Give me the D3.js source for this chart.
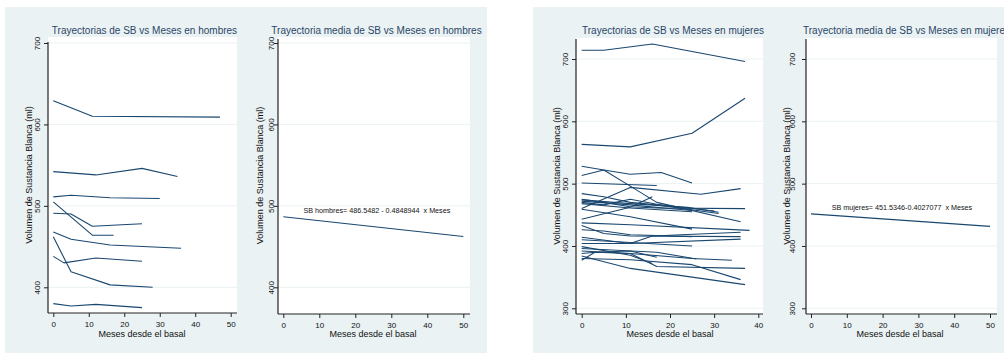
<!DOCTYPE html>
<html>
<head>
<meta charset="utf-8">
<script src="https://cdn.jsdelivr.net/npm/d3@7"></script>
<style>
  body { margin: 0; background: #fff; }
  svg { display: block; font-family: "Liberation Sans", Arial, sans-serif; }
</style>
</head>
<body>
<div id="chart"></div>
<script>
// Trayectorias individuales de SB (ml) frente a meses desde el basal
// cada sujeto: lista de [meses, SB]
const hombres = [
  [[0, 629], [11, 610], [47, 609]],
  [[0, 542], [12, 538], [25, 546], [35, 536]],
  [[0, 511], [5, 513], [16, 510], [30, 509]],
  [[0, 505], [11, 464], [17, 464]],
  [[0, 491], [5, 490], [11, 475], [25, 478]],
  [[0, 468], [5, 459], [16, 452], [36, 448]],
  [[0, 462], [5, 419], [16, 403], [28, 400]],
  [[0, 438], [3, 430], [12, 436], [25, 432]],
  [[0, 380], [5, 377], [12, 379], [25, 375]]
];

const mujeres = [
  [[0, 714], [5, 714], [16, 724], [25, 712], [37, 696]],
  [[0, 563], [11, 559], [25, 581], [37, 637]],
  [[0, 513], [5, 522], [11, 515], [18, 518], [25, 501]],
  [[0, 528], [5, 522], [11, 496], [17, 470], [36, 439]],
  [[0, 501], [17, 497]],
  [[0, 460], [11, 494], [27, 483], [36, 492]],
  [[0, 484], [5, 479], [11, 470], [17, 466], [31, 452]],
  [[0, 475], [5, 470], [11, 463], [17, 461], [37, 460]],
  [[0, 472], [11, 466], [17, 462], [25, 457]],
  [[0, 470], [5, 466], [11, 475], [17, 467], [30, 456]],
  [[0, 468], [11, 461], [25, 455]],
  [[0, 474], [11, 468], [24, 462], [31, 454]],
  [[0, 443], [11, 462], [16, 479]],
  [[0, 459], [11, 447], [25, 427]],
  [[0, 437], [11, 434], [38, 425]],
  [[0, 433], [5, 420], [11, 416], [36, 415]],
  [[0, 426], [5, 424], [11, 418], [25, 415]],
  [[0, 414], [11, 404], [16, 416], [36, 422]],
  [[0, 404], [11, 404], [36, 411]],
  [[0, 410], [25, 400]],
  [[0, 399], [11, 385], [16, 372]],
  [[0, 396], [17, 390], [26, 379]],
  [[0, 392], [11, 388], [25, 380], [34, 377]],
  [[0, 388], [3, 390], [11, 388], [17, 367], [37, 364]],
  [[0, 380], [11, 378], [25, 370], [36, 346]],
  [[0, 384], [11, 364], [37, 338]],
  [[0, 377], [3, 390], [11, 392], [17, 382]]
];

// trayectorias medias (recta de regresion), extremos
const mediaHombres = [[0, 486.55], [50, 462.30]];
const mediaMujeres = [[0, 451.53], [50, 431.40]];

const ticksMeses50 = [0, 10, 20, 30, 40, 50];
const ticksMeses40 = [0, 10, 20, 30, 40];
const ticksSBHombres = [400, 500, 600, 700];
const ticksSBMujeres = [300, 400, 500, 600, 700];

const etiquetaHombres = "SB hombres= 486.5482 - 0.4848944  x Meses";
const etiquetaMujeres = "SB mujeres= 451.5346-0.4027077  x Meses";

const tituloY = "Volumen de Sustancia Blanca (ml)";
const tituloX = "Meses desde el basal";

const W = 1004, H = 353;
const bg = "#eaf2f3";
const navy = "#1a476f";

const svg = d3.select("#chart").append("svg")
  .attr("width", W).attr("height", H);

svg.append("rect").attr("width", W).attr("height", H).attr("fill", "#fff");

// fondos de los dos graficos combinados
svg.append("rect").attr("x", 5).attr("y", 7).attr("width", 482).attr("height", 346).attr("fill", bg);
svg.append("rect").attr("x", 533).attr("y", 7).attr("width", 471).attr("height", 346).attr("fill", bg);

const panels = [
  { title: "Trayectorias de SB vs Meses en hombres", titleX: 144.5,
    box: [48, 37, 237, 313], axisTop: 42,
    xDom: [0, 50], xRange: [53.3, 230.7], xTicks: ticksMeses50,
    yDom: [400, 700], yRange: [287.3, 43], yTicks: ticksSBHombres,
    tickLabelX: 37, yTitleX: 28.5, xTitleX: 142,
    series: hombres },
  { title: "Trayectoria media de SB vs Meses en hombres", titleX: 376.5,
    box: [278, 37, 470, 314], axisTop: 39,
    xDom: [0, 50], xRange: [283.3, 463.3], xTicks: ticksMeses50,
    yDom: [400, 700], yRange: [287.3, 43], yTicks: ticksSBHombres,
    tickLabelX: 271.5, yTitleX: 260, xTitleX: 373,
    series: [mediaHombres], label: etiquetaHombres, labelAt: [26, 494] },
  { title: "Trayectorias de SB vs Meses en mujeres", titleX: 673,
    box: [576, 38, 763, 314], axisTop: 39,
    xDom: [0, 40], xRange: [581.7, 758.3], xTicks: ticksMeses40,
    yDom: [300, 700], yRange: [308.3, 59], yTicks: ticksSBMujeres,
    tickLabelX: 565, yTitleX: 556.5, xTitleX: 670,
    series: mujeres },
  { title: "Trayectoria media de SB vs Meses en mujeres", titleX: 906.5,
    box: [806, 38, 997, 314], axisTop: 39,
    xDom: [0, 50], xRange: [811, 990], xTicks: ticksMeses50,
    yDom: [300, 700], yRange: [308.3, 59], yTicks: ticksSBMujeres,
    tickLabelX: 792, yTitleX: 787, xTitleX: 900,
    series: [mediaMujeres], label: etiquetaMujeres, labelAt: [25.4, 461.5] }
];

panels.forEach(drawPanel);

function drawPanel(p) {
  const [x0, y0, x1, y1] = p.box;
  const x = d3.scaleLinear().domain(p.xDom).range(p.xRange);
  const y = d3.scaleLinear().domain(p.yDom).range(p.yRange);
  const g = svg.append("g");

  // region del grafico
  g.append("rect")
    .attr("x", x0).attr("y", y0)
    .attr("width", x1 - x0).attr("height", y1 - y0)
    .attr("fill", "#fff");

  // rejilla
  g.selectAll("line.grid")
    .data(p.yTicks)
    .join("line")
    .attr("class", "grid")
    .attr("x1", x0).attr("x2", x1)
    .attr("y1", d => y(d)).attr("y2", d => y(d))
    .attr("stroke", bg).attr("stroke-width", 1);

  // lineas
  const line = d3.line().x(d => x(d[0])).y(d => y(d[1]));
  g.selectAll("path.tray")
    .data(p.series)
    .join("path")
    .attr("class", "tray")
    .attr("d", line)
    .attr("fill", "none")
    .attr("stroke", navy)
    .attr("stroke-width", 1.1)
    .attr("stroke-linejoin", "round");

  if (p.label) {
    g.append("text")
      .attr("x", x(p.labelAt[0]))
      .attr("y", y(p.labelAt[1]))
      .attr("dy", "0.35em")
      .attr("text-anchor", "middle")
      .attr("font-size", "7.2px")
      .attr("fill", "#111")
      .style("white-space", "pre")
      .text(p.label);
  }

  // eje x
  const xAxis = g.append("g")
    .attr("transform", "translate(0," + y1 + ")")
    .call(d3.axisBottom(x).tickValues(p.xTicks).tickSize(4).tickPadding(4.5).tickSizeOuter(0));
  xAxis.select(".domain").remove();
  xAxis.selectAll("line").attr("stroke", "#222");
  xAxis.selectAll("text")
    .attr("font-size", "8px")
    .attr("font-family", "Liberation Sans, Arial, sans-serif")
    .attr("fill", "#111");
  g.append("line")
    .attr("x1", x0).attr("x2", x1)
    .attr("y1", y1).attr("y2", y1)
    .attr("stroke", "#222").attr("stroke-width", 1.2);

  // eje y
  const yAxis = g.append("g")
    .attr("transform", "translate(" + x0 + ",0)")
    .call(d3.axisLeft(y).tickValues(p.yTicks).tickSize(4).tickSizeOuter(0));
  yAxis.select(".domain").remove();
  yAxis.selectAll("line").attr("stroke", "#222");
  yAxis.selectAll("text")
    .attr("x", 0).attr("y", 0).attr("dy", "0.35em")
    .attr("text-anchor", "middle")
    .attr("transform", "translate(" + (p.tickLabelX - x0) + ",0) rotate(-90)")
    .attr("font-size", "8px")
    .attr("font-family", "Liberation Sans, Arial, sans-serif")
    .attr("fill", "#111");
  g.append("line")
    .attr("x1", x0).attr("x2", x0)
    .attr("y1", p.axisTop).attr("y2", y1)
    .attr("stroke", "#222").attr("stroke-width", 1.2);

  // titulos
  g.append("text")
    .attr("x", p.titleX).attr("y", 34)
    .attr("text-anchor", "middle")
    .attr("font-size", "10px")
    .attr("fill", "#2a4668")
    .text(p.title);

  g.append("text")
    .attr("transform", "translate(" + p.yTitleX + "," + ((y0 + y1) / 2) + ") rotate(-90)")
    .attr("dy", "0.35em")
    .attr("text-anchor", "middle")
    .attr("font-size", "9px")
    .attr("fill", "#111")
    .text(tituloY);

  g.append("text")
    .attr("x", p.xTitleX).attr("y", 336.5)
    .attr("text-anchor", "middle")
    .attr("font-size", "9px")
    .attr("fill", "#111")
    .text(tituloX);
}
</script>
</body>
</html>
